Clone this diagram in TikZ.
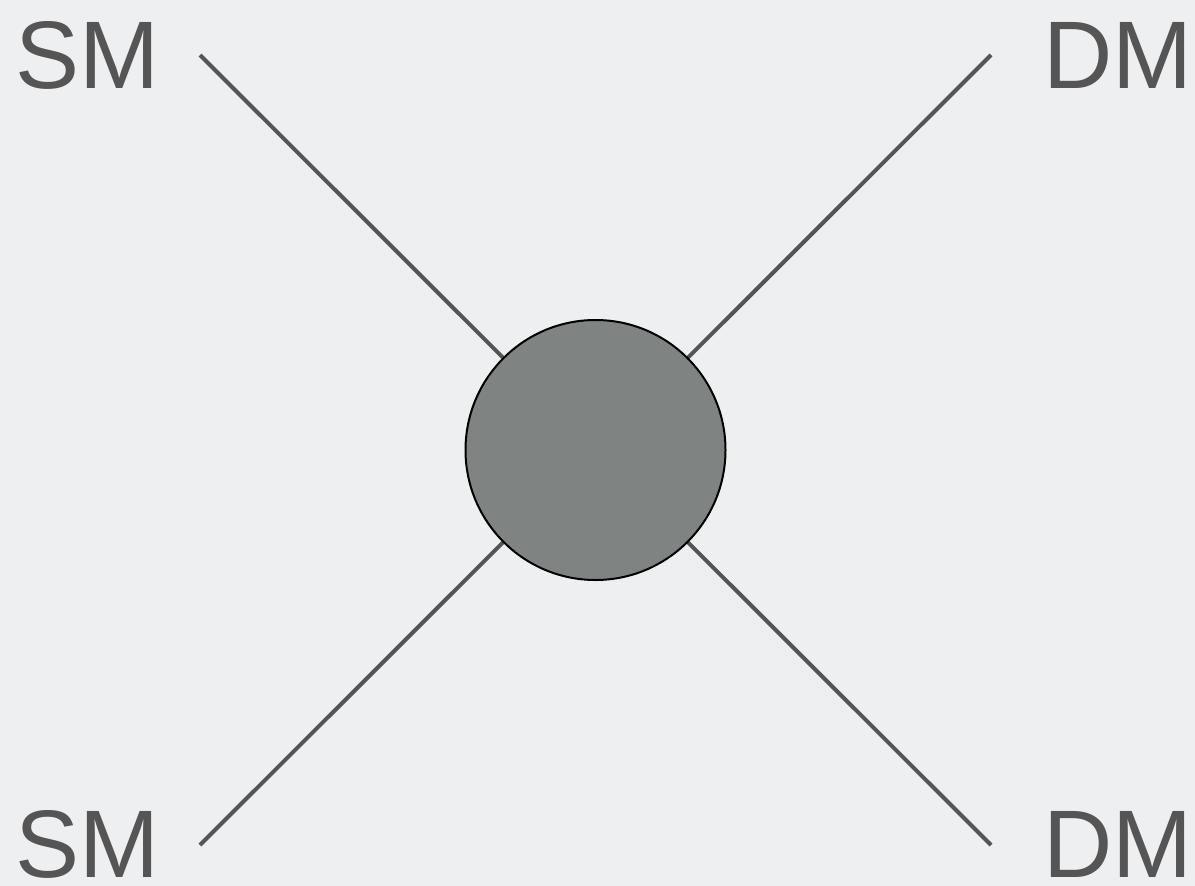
\documentclass[tikz,border=0pt]{standalone}
\usepackage{fontspec}
\setmainfont{Liberation Sans}
\usetikzlibrary{positioning}

\definecolor{bgcol}{HTML}{EEEFF1}
\definecolor{inkcol}{HTML}{555555}
\definecolor{blobcol}{HTML}{7F8482}

\begin{document}
\begin{tikzpicture}[
    x=1pt, y=-1pt,
    particle/.style={
        text=inkcol,
        inner sep=0pt,
        font=\fontsize{96}{96}\selectfont
    },
    leg/.style={draw=inkcol, line width=4pt},
    blob/.style={
        circle,
        draw=black,
        line width=2pt,
        fill=blobcol,
        minimum size=260pt,
        inner sep=0pt
    }
]

% Canvas
\fill[bgcol] (0,0) rectangle (1195,886);
\useasboundingbox (0,0) rectangle (1195,886);

% Labels
\node[particle, anchor=base west] (smtop) at (15,88) {SM};
\node[particle, anchor=base east] (dmtop) at (1193,88) {DM};
\node[particle, anchor=base west] (smbot) at (15,877) {SM};
\node[particle, anchor=base east] (dmbot) at (1193,877) {DM};

% Leg ends
\coordinate (a) at (200,55);
\coordinate (b) at (991,55);
\coordinate (c) at (200,845);
\coordinate (d) at (991,845);
\coordinate (vertex) at (595.5,450);

% Legs
\draw[leg] (a) -- (vertex);
\draw[leg] (b) -- (vertex);
\draw[leg] (c) -- (vertex);
\draw[leg] (d) -- (vertex);

% Interaction
\node[blob] (blobnode) at (vertex) {};

\end{tikzpicture}
\end{document}
